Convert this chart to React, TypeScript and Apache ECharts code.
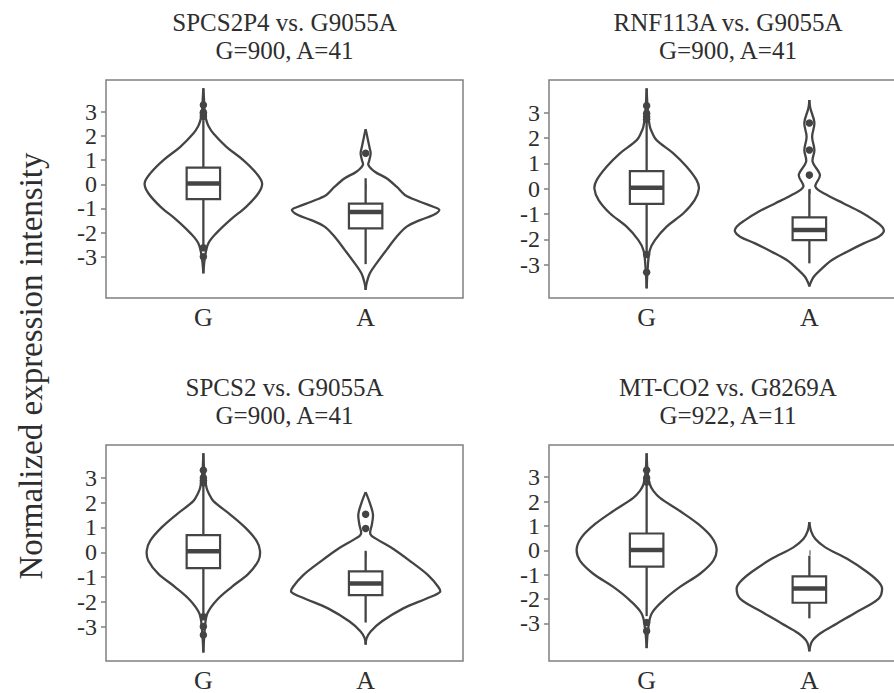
import React, { useEffect, useRef } from "react";
import * as echarts from "echarts";

// ---------- data ----------
const CATEGORIES = ["G", "A"];
const CATEGORY_POS = [1, 2];
const Y_TICKS_EVEN = [-2, 0, 2];
const Y_TICKS_ODD = [-3, -1, 1, 3];

const GENE_TITLES = ["SPCS2P4 vs. G9055A", "RNF113A vs. G9055A", "SPCS2 vs. G9055A", "MT-CO2 vs. G8269A"];
const COUNT_LABELS = ["G=900, A=41", "G=900, A=41", "G=900, A=41", "G=922, A=11"];
const Y_RANGES = [
  [-4.7, 4.31],
  [-4.32, 4.3],
  [-4.38, 4.32],
  [-4.54, 4.32],
];

// violin outlines: [value, half width in category units]
const spcs2p4ViolinG = [[3.97, 0], [3.5, 0.004], [3.0, 0.008], [2.65, 0.018], [2.4, 0.032], [2.1, 0.062], [1.55, 0.142], [1.0, 0.246], [0.45, 0.327], [0.04, 0.362], [-0.37, 0.339], [-0.92, 0.265], [-1.47, 0.166], [-2.02, 0.08], [-2.44, 0.031], [-3.0, 0.01], [-3.68, 0]];
const spcs2p4ViolinA = [[2.27, 0], [1.97, 0.01], [1.55, 0.023], [1.28, 0.031], [1.0, 0.023], [0.8, 0.017], [0.52, 0.057], [0.25, 0.129], [-0.1, 0.191], [-0.44, 0.242], [-0.72, 0.335], [-0.93, 0.417], [-1.06, 0.454], [-1.27, 0.417], [-1.48, 0.335], [-1.75, 0.253], [-2.17, 0.191], [-2.71, 0.129], [-3.26, 0.068], [-3.68, 0.026], [-4.09, 0.006], [-4.37, 0]];
const rnf113aViolinG = [[3.97, 0], [3.4, 0.004], [2.9, 0.01], [2.45, 0.02], [2.2, 0.035], [1.92, 0.061], [1.4, 0.164], [0.87, 0.246], [0.34, 0.307], [0.0, 0.321], [-0.45, 0.295], [-0.97, 0.226], [-1.5, 0.123], [-2.03, 0.051], [-2.42, 0.02], [-3.0, 0.008], [-3.94, 0]];
const rnf113aViolinA = [[3.51, 0], [3.18, 0.006], [2.61, 0.031], [2.06, 0.017], [1.53, 0.031], [1.07, 0.02], [0.54, 0.065], [0.08, 0.037], [-0.25, 0.109], [-0.58, 0.211], [-0.91, 0.313], [-1.24, 0.395], [-1.5, 0.447], [-1.7, 0.457], [-1.9, 0.426], [-2.16, 0.334], [-2.49, 0.232], [-2.82, 0.139], [-3.21, 0.068], [-3.48, 0.027], [-3.74, 0.006], [-3.87, 0]];
const spcs2ViolinG = [[3.99, 0], [3.4, 0.004], [3.0, 0.01], [2.59, 0.02], [2.35, 0.035], [2.06, 0.062], [1.53, 0.164], [1.0, 0.257], [0.46, 0.328], [0.06, 0.349], [-0.34, 0.339], [-0.87, 0.277], [-1.4, 0.174], [-1.93, 0.082], [-2.46, 0.025], [-3.0, 0.01], [-4.04, 0]];
const spcs2ViolinA = [[2.42, 0], [2.0, 0.025], [1.53, 0.045], [1.13, 0.039], [0.73, 0.029], [0.53, 0.068], [0.13, 0.171], [-0.4, 0.283], [-0.93, 0.386], [-1.4, 0.448], [-1.6, 0.458], [-1.86, 0.376], [-2.26, 0.232], [-2.79, 0.099], [-3.19, 0.031], [-3.46, 0.006], [-3.72, 0]];
const mtco2ViolinG = [[3.98, 0], [3.4, 0.004], [3.0, 0.01], [2.7, 0.02], [2.45, 0.04], [2.15, 0.082], [1.61, 0.205], [1.07, 0.318], [0.53, 0.4], [0.05, 0.43], [-0.42, 0.41], [-0.96, 0.328], [-1.5, 0.205], [-2.05, 0.103], [-2.59, 0.031], [-3.2, 0.01], [-4.01, 0]];
const mtco2ViolinA = [[1.16, 0], [0.8, 0.01], [0.46, 0.037], [0.12, 0.098], [-0.35, 0.232], [-0.89, 0.355], [-1.3, 0.426], [-1.57, 0.447], [-1.98, 0.426], [-2.52, 0.293], [-3.0, 0.17], [-3.4, 0.068], [-3.74, 0.016], [-4.15, 0]];

// boxes: [lower whisker, Q1, median, Q3, upper whisker]
const spcs2p4BoxG = [-2.55, -0.61, 0.03, 0.69, 2.65];
const spcs2p4BoxA = [-3.3, -1.82, -1.15, -0.8, 0.25];
const rnf113aBoxG = [-2.5, -0.6, 0.04, 0.7, 2.65];
const rnf113aBoxA = [-2.95, -2.03, -1.63, -1.13, -0.02];
const spcs2BoxG = [-2.5, -0.64, 0.04, 0.69, 2.7];
const spcs2BoxA = [-2.83, -1.73, -1.26, -0.77, 0.06];
const mtco2BoxG = [-2.7, -0.67, 0.01, 0.69, 2.7];
const mtco2BoxA = [-2.79, -2.15, -1.57, -1.07, -0.22];

// outliers
const spcs2p4OutliersG = [3.28, 2.98, 2.9, 2.8, -2.62, -3.0];
const spcs2p4OutliersA = [1.28];
const rnf113aOutliersG = [3.28, 2.98, 2.85, 2.75, -2.6, -3.3];
const rnf113aOutliersA = [2.6, 1.53, 0.54];
const spcs2OutliersG = [3.3, 3.0, 2.9, 2.8, -2.6, -2.99, -3.33];
const spcs2OutliersA = [1.53, 0.96];
const mtco2OutliersG = [3.28, 2.97, 2.8, -2.96, -3.31];
const mtco2OutliersA: number[] = [];

const PANEL_VIOLINS = [
  [spcs2p4ViolinG, spcs2p4ViolinA],
  [rnf113aViolinG, rnf113aViolinA],
  [spcs2ViolinG, spcs2ViolinA],
  [mtco2ViolinG, mtco2ViolinA],
];
const PANEL_BOXES = [
  [spcs2p4BoxG, spcs2p4BoxA],
  [rnf113aBoxG, rnf113aBoxA],
  [spcs2BoxG, spcs2BoxA],
  [mtco2BoxG, mtco2BoxA],
];
const PANEL_OUTLIERS = [
  [spcs2p4OutliersG, spcs2p4OutliersA],
  [rnf113aOutliersG, rnf113aOutliersA],
  [spcs2OutliersG, spcs2OutliersA],
  [mtco2OutliersG, mtco2OutliersA],
];

// ---------- layout & style ----------
const GRIDS = [
  { left: 106, top: 80, width: 357, height: 218 },
  { left: 549, top: 80, width: 358, height: 218 },
  { left: 106, top: 445, width: 357, height: 218 },
  { left: 549, top: 445, width: 358, height: 218 },
];
const FONT = '"Liberation Serif", "Times New Roman", serif';
const INK = "#444444";
const TEXT = "#2e2e2e";
const FRAME = "#808080";
const BOX_HALF = 0.103;

function yAxisFor(i: number, ticks: number[]) {
  return {
    type: "value",
    gridIndex: i,
    position: "left",
    offset: 0,
    min: Y_RANGES[i][0],
    max: Y_RANGES[i][1],
    splitLine: { show: false },
    axisLine: { show: false },
    axisTick: { show: true, customValues: ticks, length: 5, lineStyle: { color: FRAME, width: 1.5 } },
    axisLabel: {
      customValues: ticks,
      formatter: (v: number) => String(v),
      fontFamily: FONT,
      fontSize: 24,
      color: TEXT,
      margin: 9,
      hideOverlap: false,
      showMinLabel: true,
      showMaxLabel: true,
    },
  };
}

function buildOption() {
  const grid: any[] = [];
  const xAxis: any[] = [];
  const yAxis: any[] = [];
  const series: any[] = [];
  const graphic: any[] = [];

  GRIDS.forEach((g, i) => {
    grid.push({
      left: g.left,
      top: g.top,
      width: g.width,
      height: g.height,
      show: true,
      borderColor: FRAME,
      borderWidth: 1.5,
      backgroundColor: "transparent",
      containLabel: false,
    });
    xAxis.push({
      type: "value",
      gridIndex: i,
      min: 0.4,
      max: 2.6,
      splitLine: { show: false },
      axisLine: { show: false },
      axisTick: { show: true, customValues: CATEGORY_POS, length: 5, lineStyle: { color: FRAME, width: 1.5 } },
      axisLabel: {
        customValues: CATEGORY_POS,
        formatter: (v: number) => CATEGORIES[Math.round(v) - 1] ?? "",
        fontFamily: FONT,
        fontSize: 26,
        color: TEXT,
        margin: 6,
        hideOverlap: false,
        showMinLabel: true,
        showMaxLabel: true,
      },
    });
    const yi = yAxis.length;
    yAxis.push(yAxisFor(i, Y_TICKS_EVEN));
    yAxis.push(yAxisFor(i, Y_TICKS_ODD));

    const violins = PANEL_VIOLINS[i];
    series.push({
      type: "custom",
      xAxisIndex: i,
      yAxisIndex: yi,
      silent: true,
      encode: { x: 0, y: 1 },
      data: CATEGORY_POS.map((p) => [p, 0]),
      renderItem: (params: any, api: any) => {
        const center = api.value(0);
        const prof = violins[params.dataIndex];
        const right = prof.map(([v, hw]: number[]) => api.coord([center + hw, v]));
        const left = prof.map(([v, hw]: number[]) => api.coord([center - hw, v]));
        const st = { fill: "none", stroke: INK, lineWidth: 2.3 };
        return {
          type: "group",
          children: [
            { type: "polyline", shape: { points: right, smooth: 0.35 }, style: st },
            { type: "polyline", shape: { points: left, smooth: 0.35 }, style: st },
          ],
        };
      },
    });

    const boxes = PANEL_BOXES[i];
    series.push({
      type: "custom",
      xAxisIndex: i,
      yAxisIndex: yi,
      silent: true,
      encode: { x: 0, y: [1, 2, 3, 4, 5] },
      data: CATEGORY_POS.map((p, k) => [p, ...boxes[k]]),
      renderItem: (params: any, api: any) => {
        const x = api.value(0);
        const low = api.value(1);
        const q1 = api.value(2);
        const med = api.value(3);
        const q3 = api.value(4);
        const high = api.value(5);
        const top = api.coord([x, high]);
        const q3p = api.coord([x, q3]);
        const q1p = api.coord([x, q1]);
        const bot = api.coord([x, low]);
        const tl = api.coord([x - BOX_HALF, q3]);
        const br = api.coord([x + BOX_HALF, q1]);
        const ml = api.coord([x - BOX_HALF, med]);
        const mr = api.coord([x + BOX_HALF, med]);
        return {
          type: "group",
          children: [
            { type: "line", shape: { x1: top[0], y1: top[1], x2: q3p[0], y2: q3p[1] }, style: { stroke: INK, lineWidth: 2.3 } },
            { type: "line", shape: { x1: q1p[0], y1: q1p[1], x2: bot[0], y2: bot[1] }, style: { stroke: INK, lineWidth: 2.3 } },
            {
              type: "rect",
              shape: { x: tl[0], y: tl[1], width: br[0] - tl[0], height: br[1] - tl[1] },
              style: { fill: "#ffffff", stroke: INK, lineWidth: 2.2 },
            },
            { type: "line", shape: { x1: ml[0], y1: ml[1], x2: mr[0], y2: mr[1] }, style: { stroke: INK, lineWidth: 4.5 } },
          ],
        };
      },
    });

    const outs = PANEL_OUTLIERS[i];
    const outData: number[][] = [];
    outs.forEach((arr, k) => arr.forEach((v) => outData.push([CATEGORY_POS[k], v])));
    series.push({
      type: "scatter",
      xAxisIndex: i,
      yAxisIndex: yi,
      silent: true,
      symbol: "circle",
      symbolSize: 7.5,
      itemStyle: { color: INK, opacity: 1 },
      data: outData,
    });

    const cx = g.left + g.width / 2;
    graphic.push({
      type: "text",
      x: cx,
      y: g.top - 44,
      style: {
        text: `${GENE_TITLES[i]}\n${COUNT_LABELS[i]}`,
        fill: TEXT,
        font: `25px ${FONT}`,
        lineHeight: 28,
        align: "center",
        textAlign: "center",
        verticalAlign: "middle",
        textVerticalAlign: "middle",
      },
    });
  });

  graphic.push({
    type: "text",
    x: 31,
    y: 366,
    rotation: Math.PI / 2,
    style: {
      text: "Normalized expression intensity",
      fill: TEXT,
      font: `33px ${FONT}`,
      align: "center",
      textAlign: "center",
      verticalAlign: "middle",
      textVerticalAlign: "middle",
    },
  });

  return {
    animation: false,
    backgroundColor: "#ffffff",
    grid,
    xAxis,
    yAxis,
    series,
    graphic,
  };
}

export default function App() {
  const ref = useRef<HTMLDivElement>(null);
  useEffect(() => {
    if (!ref.current) return;
    const chart = echarts.init(ref.current, null, { renderer: "svg" });
    chart.setOption(buildOption() as any);
    return () => chart.dispose();
  }, []);
  return (
    <div
      style={{
        position: "absolute",
        left: 0,
        top: 0,
        width: 894,
        height: 693,
        overflow: "hidden",
        background: "#ffffff",
      }}
    >
      <div ref={ref} style={{ width: 910, height: 693 }} />
    </div>
  );
}
